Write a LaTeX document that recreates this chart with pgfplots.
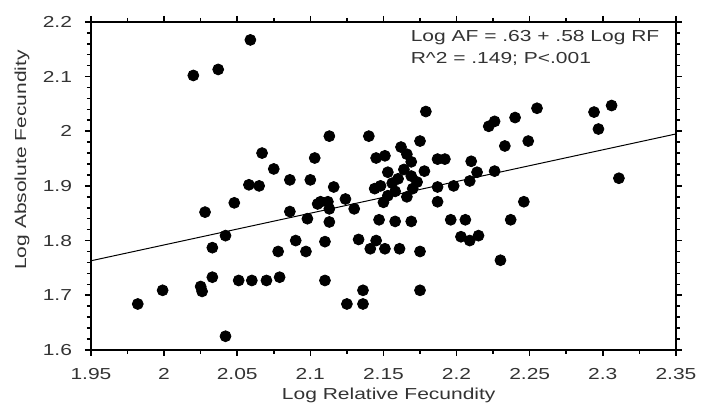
\documentclass[border=0pt]{standalone}
\usepackage{pgfplots}
\pgfplotsset{compat=1.18}
\usepackage{fontspec}
\setmainfont{Liberation Sans}[FakeStretch=1.32]
\definecolor{txt}{HTML}{333333}
\begin{document}
\begin{tikzpicture}
\begin{axis}[
  width=294.25pt, height=165pt, scale only axis,
  xmin=1.95, xmax=2.35, ymin=1.6, ymax=2.2,
  xtick={1.95,2,2.05,2.1,2.15,2.2,2.25,2.3,2.35},
  ytick={1.6,1.7,1.8,1.9,2,2.1,2.2},
  xticklabels={1.95,2,2.05,2.1,2.15,2.2,2.25,2.3,2.35},
  yticklabels={1.6,1.7,1.8,1.9,2,2.1,2.2},
  minor x tick num=1, minor y tick num=4,
  tick align=outside,
  major tick length=3pt, minor tick length=2pt,
  every tick/.style={black, line width=0.8pt},
  axis line style={line width=1pt},
  tick label style={font=\fontsize{8}{9}\selectfont, text=txt},
  /pgf/number format/assume math mode=true,
  yticklabel style={xshift=-3pt},
  xticklabel style={yshift=-3pt},
  xlabel={Log Relative Fecundity},
  ylabel={Log Absolute Fecundity},
  label style={font=\fontsize{8}{9}\selectfont, text=txt},
  xlabel style={at={(axis description cs:0.509,-0.139)}, anchor=center},
  ylabel style={at={(axis description cs:-0.118,0.579)}, anchor=center, rotate=0},
  clip=false,
]
\path (rel axis cs:-0.1555,-0.1667) rectangle (rel axis cs:1.0391,1.0667);
\addplot[black, line width=0.5pt] coordinates {(1.95,1.763) (2.35,1.995)};
\addplot[only marks, mark=*, mark size=2.75pt, black] coordinates {
(2.059,2.167) (2.020,2.102) (2.037,2.113) (1.982,1.684) (1.999,1.709)
(2.025,1.716) (2.026,1.707) (2.033,1.733) (2.042,1.625) (2.033,1.787)
(2.042,1.809) (2.028,1.852) (2.048,1.869) (2.051,1.727) (2.060,1.727)
(2.070,1.727) (2.079,1.733) (2.078,1.780) (2.090,1.800) (2.097,1.780)
(2.086,1.853) (2.110,1.727) (2.110,1.798) (2.058,1.902) (2.065,1.900)
(2.067,1.960) (2.075,1.931) (2.086,1.911) (2.100,1.911) (2.103,1.951)
(2.113,1.991) (2.116,1.898) (2.140,1.991) (2.179,2.036) (2.222,2.009)
(2.226,2.018) (2.240,2.025) (2.255,2.042) (2.233,1.973) (2.249,1.982)
(2.294,2.035) (2.306,2.047) (2.297,2.004) (2.311,1.914) (2.246,1.871)
(2.237,1.838) (2.215,1.809) (2.209,1.800) (2.203,1.807) (2.230,1.764)
(2.098,1.840) (2.105,1.867) (2.113,1.858) (2.113,1.834) (2.124,1.876)
(2.130,1.858) (2.133,1.802) (2.145,1.800) (2.141,1.785) (2.151,1.785)
(2.161,1.785) (2.175,1.780) (2.136,1.709) (2.125,1.684) (2.136,1.684)
(2.175,1.709) (2.147,1.838) (2.158,1.835) (2.169,1.835) (2.196,1.838)
(2.206,1.838) (2.187,1.871) (2.198,1.900) (2.209,1.909) (2.175,1.982)
(2.162,1.971) (2.151,1.955) (2.169,1.944) (2.187,1.949) (2.192,1.949)
(2.210,1.945) (2.153,1.925) (2.178,1.927) (2.160,1.913) (2.169,1.918)
(2.148,1.900) (2.158,1.890) (2.173,1.907) (2.187,1.898) (2.214,1.925)
(2.166,1.880) (2.153,1.882) (2.145,1.951) (2.107,1.871) (2.112,1.871)
(2.144,1.895) (2.226,1.927) (2.164,1.930) (2.156,1.905) (2.166,1.958)
(2.150,1.870) (2.170,1.895)
};
\node[anchor=north west, align=left, inner sep=0pt, text=txt,
  font=\fontsize{8}{11}\selectfont] at (rel axis cs:0.546,0.975)
  {Log AF = .63 + .58 Log RF\\R\^{}2 = .149; P<.001};
\end{axis}
\end{tikzpicture}
\end{document}
